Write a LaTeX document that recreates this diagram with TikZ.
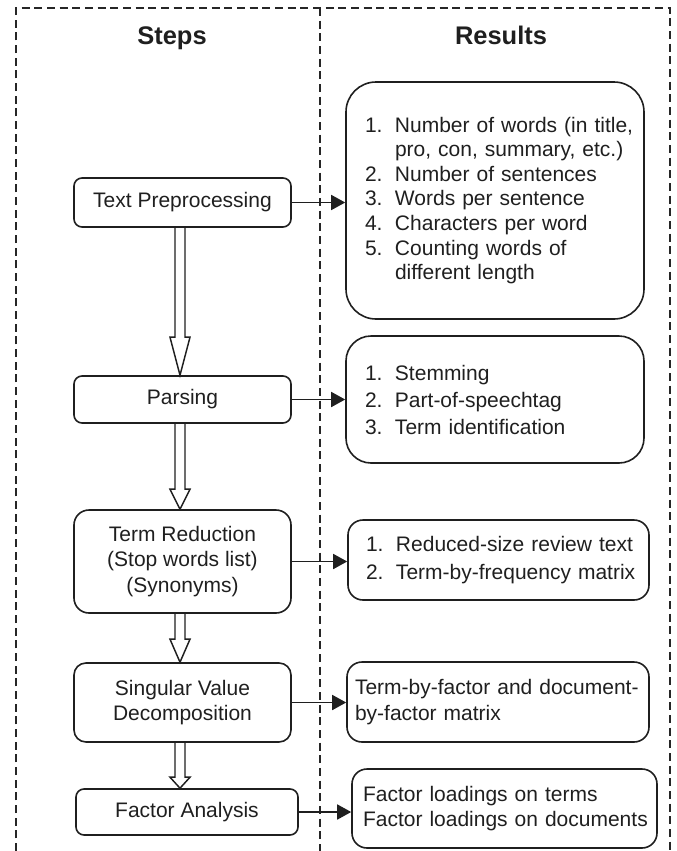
\documentclass[tikz,border=0pt]{standalone}
\usepackage{fontspec}
\setmainfont{Liberation Sans}
\usetikzlibrary{arrows.meta,calc}
\newcommand\itm[2]{\mbox{\makebox[22.5pt][l]{#1}#2}}
\newcommand\cnt[1]{\mbox{\hspace*{22.5pt}#1}}
% hollow block arrow from node #1 (south) to node #2 (north), head length #3
\newcommand\hollowarrow[3]{%
  \draw[harrow] let \p0=(ax), \p1=(#1.south), \p2=(#2.north) in
    (\x0-3.75pt,\y1) -- (\x0-3.75pt,\y2+#3) -- (\x0-7.5pt,\y2+#3) -- (\x0,\y2)
    -- (\x0+7.5pt,\y2+#3) -- (\x0+3.75pt,\y2+#3) -- (\x0+3.75pt,\y1);}
\begin{document}
\begin{tikzpicture}[x=0.75pt,y=-0.75pt,
  every node/.style={text=black!88},
  frame/.style={line width=1.3pt, dash pattern=on 6pt off 3.5pt, draw=black!85},
  stepbox/.style={draw=black!88, line width=1.2pt, inner sep=0pt, align=center,
    font={\fontsize{15.75pt}{19.4pt}\selectfont}},
  resbox/.style={draw=black!88, line width=1.2pt, inner ysep=0pt, align=left},
  title/.style={font={\bfseries\fontsize{19.1pt}{23pt}\selectfont}, anchor=base},
  harrow/.style={line width=1.1pt, draw=black!88, line join=miter},
  rarrow/.style={line width=1.2pt, draw=black!88,
    -{Triangle[length=10.5pt,width=11.25pt]}}]
\useasboundingbox (0,0) rectangle (677,851);

% frame
\draw[frame] (16,851) -- (16,8) -- (670,8) -- (670,851);
\draw[frame] (320,8) -- (320,851);

% titles
\node[title] (tsteps) at (172,44) {Steps};
\node[title] (tres) at (501,44) {Results};

\coordinate (ax) at (180,0);

% steps
\node[stepbox, rounded corners=6pt, minimum width=162.75pt, minimum height=36.75pt]
  (tp) at (182.5,202.5) {Text Preprocessing};
\node[stepbox, rounded corners=6pt, minimum width=162.75pt, minimum height=35.25pt]
  (pa) at (182.5,399.5) {Parsing};
\node[stepbox, rounded corners=11.25pt, minimum width=162.75pt, minimum height=77.25pt]
  (tr) at (182.5,561.5) {Term Reduction\\(Stop words list)\\(Synonyms)};
\node[stepbox, rounded corners=9pt, minimum width=162.75pt, minimum height=59.25pt,
  font={\fontsize{15.75pt}{18.75pt}\selectfont}]
  (svd) at (182.5,702.5) {Singular Value\\Decomposition};
\node[stepbox, rounded corners=6pt, minimum width=166.5pt, minimum height=34.5pt]
  (fa) at (187,812) {Factor Analysis};

% results
\node[resbox, rounded corners=22.5pt, minimum width=223.5pt, minimum height=177.75pt,
  inner xsep=14.25pt, text width=195pt, font={\fontsize{15.75pt}{18.45pt}\selectfont}]
  (r1) at (495,200.5) {\itm{1.}{Number of words (in title,}\\
  \cnt{pro, con, summary, etc.)}\\
  \itm{2.}{Number of sentences}\\
  \itm{3.}{Words per sentence}\\
  \itm{4.}{Characters per word}\\
  \itm{5.}{Counting words of}\\
  \cnt{different length}};
\node[resbox, rounded corners=18.75pt, minimum width=223.5pt, minimum height=95.25pt,
  inner xsep=14.25pt, text width=195pt, font={\fontsize{15.75pt}{20.25pt}\selectfont}]
  (r2) at (495,399.5) {\itm{1.}{Stemming}\\
  \itm{2.}{Part-of-speechtag}\\
  \itm{3.}{Term identification}};
\node[resbox, rounded corners=11.25pt, minimum width=225.75pt, minimum height=60pt,
  inner xsep=13.5pt, text width=198.75pt, font={\fontsize{15.75pt}{21pt}\selectfont}]
  (r3) at (498.5,560) {\itm{1.}{Reduced-size review text}\\
  \itm{2.}{Term-by-frequency matrix}};
\node[resbox, rounded corners=11.25pt, minimum width=226.5pt, minimum height=60pt,
  inner xsep=6pt, text width=214.5pt, font={\fontsize{15.75pt}{19.5pt}\selectfont}]
  (r4) at (498,702) {\mbox{Term-by-factor and document-}\\
  \mbox{by-factor matrix}};
\node[resbox, rounded corners=11.25pt, minimum width=228.75pt, minimum height=59.25pt,
  inner xsep=8.25pt, text width=212.25pt, font={\fontsize{15.75pt}{18.75pt}\selectfont}]
  (r5) at (504.5,808.5) {\mbox{Factor loadings on terms}\\
  \mbox{Factor loadings on documents}};

% hollow arrows between steps
\hollowarrow{tp}{pa}{28.5pt}
\hollowarrow{pa}{tr}{15pt}
\hollowarrow{tr}{svd}{17.25pt}
\hollowarrow{svd}{fa}{8.25pt}

% arrows to results
\draw[rarrow] (tp.east) -- (tp.east -| r1.west);
\draw[rarrow] (pa.east) -- (pa.east -| r2.west);
\draw[rarrow] (tr.east) -- (tr.east -| r3.west);
\draw[rarrow] (svd.east) -- (svd.east -| r4.west);
\draw[rarrow] (fa.east) -- (fa.east -| r5.west);
\end{tikzpicture}
\end{document}
